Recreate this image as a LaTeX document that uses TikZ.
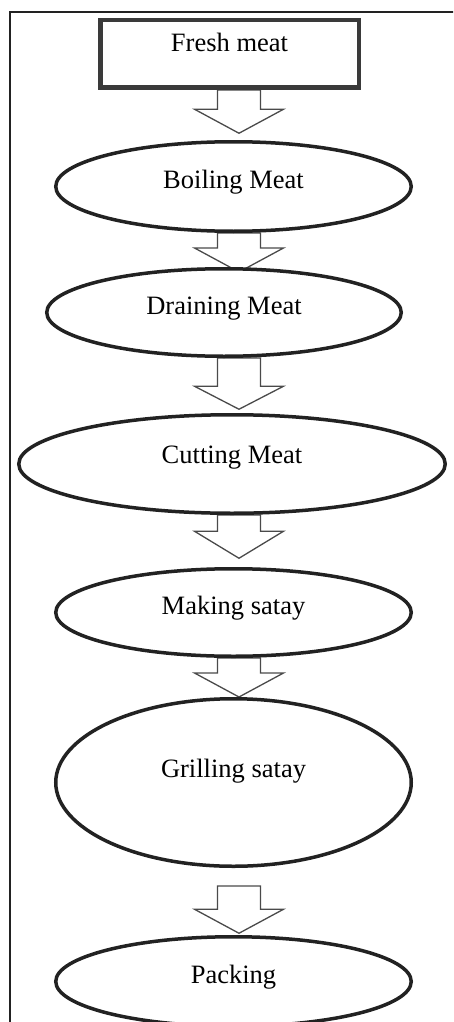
\documentclass[tikz,border=0pt]{standalone}
\usepackage{fontspec}
\setmainfont{Liberation Serif}
\usetikzlibrary{shapes.geometric,calc,backgrounds}
\definecolor{linedark}{HTML}{222222}
\definecolor{boxline}{HTML}{3A3A3A}
\definecolor{arrline}{HTML}{4A4A4A}
\tikzset{
  stepell/.style={ellipse, draw=linedark, line width=3.5pt, fill=white, inner sep=0pt,
    font=\fontsize{26.5}{30}\selectfont, text height=18pt},
  stepbox/.style={rectangle, draw=boxline, line width=4.5pt, fill=white, inner sep=0pt,
    font=\fontsize{26.5}{30}\selectfont, text height=18pt},
  flowarr/.style={draw=arrline, line width=1.3pt, fill=white, line join=miter},
  framel/.style={draw=linedark, line width=2pt}
}
\newcommand\flowarrow[5]{%
  \draw[flowarr] let \p1=(#1.south), \p2=(#2.north) in
    (217.5pt,\y1-#3pt) -- (217.5pt,\y2+#4pt+#5pt) -- (194.5pt,\y2+#4pt+#5pt)
    -- (239pt,\y2+#4pt) -- (283.5pt,\y2+#4pt+#5pt) -- (260.5pt,\y2+#4pt+#5pt)
    -- (260.5pt,\y1-#3pt) -- cycle;}
\begin{document}
\begin{tikzpicture}[x=1pt,y=-1pt]
\useasboundingbox (0,0) rectangle (453,1022);
\begin{scope}
\clip (0,0) rectangle (453,1022);
\draw[framel] (10,1030) -- (10,12) -- (460,12);

\node[stepbox, minimum width=258.5pt, minimum height=67.5pt, text depth=22pt] (fresh) at (229.5,54) {Fresh meat};
\node[stepell, minimum width=355.5pt, minimum height=89.5pt, text depth=14pt] (boil) at (233.5,186.5) {Boiling Meat};
\node[stepell, minimum width=354.5pt, minimum height=87.5pt, text depth=14pt] (drain) at (224,312.5) {Draining Meat};
\node[stepell, minimum width=426.5pt, minimum height=98.5pt, text depth=20pt] (cut) at (232,464) {Cutting Meat};
\node[stepell, minimum width=355.5pt, minimum height=87.5pt, text depth=14pt] (make) at (233.5,612.5) {Making satay};
\node[stepell, minimum width=355.5pt, minimum height=167.5pt, text depth=28pt] (grill) at (233.5,782.5) {Grilling satay};
\node[stepell, minimum width=355.5pt, minimum height=89.5pt, text depth=14pt] (pack) at (233.5,981.5) {Packing};

\begin{pgfonlayer}{background}
\flowarrow{fresh}{boil}{0}{6.75}{24}
\flowarrow{boil}{drain}{0}{-5}{24}
\flowarrow{drain}{cut}{0}{3.75}{23}
\flowarrow{cut}{make}{0}{8.75}{27}
\flowarrow{make}{grill}{0}{0}{24}
\flowarrow{grill}{pack}{18}{1.75}{24}
\end{pgfonlayer}
\end{scope}
\end{tikzpicture}
\end{document}
